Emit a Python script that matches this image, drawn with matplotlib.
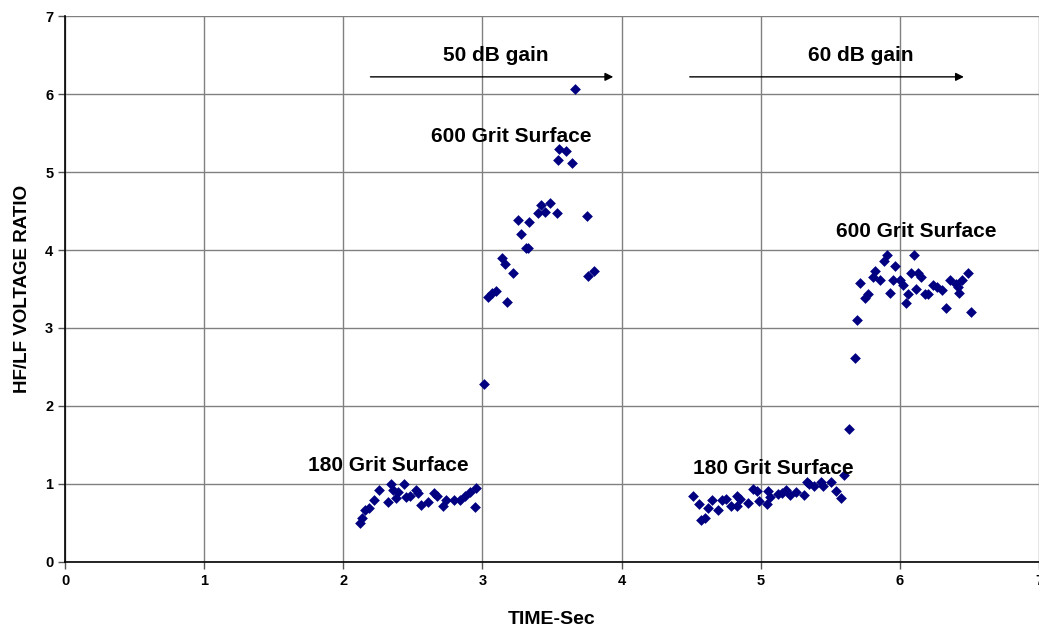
import matplotlib
matplotlib.use('Agg')
import matplotlib.pyplot as plt

plt.rcParams['font.family'] = ['Liberation Sans', 'DejaVu Sans']
plt.rcParams['font.weight'] = 'bold'

# 180 grit, 50 dB gain
t1 = [2.118, 2.137, 2.154, 2.185, 2.218, 2.256, 2.321, 2.340, 2.357, 2.381, 2.393, 2.434,
      2.453, 2.477, 2.520, 2.536, 2.561, 2.610, 2.649, 2.673, 2.716, 2.740, 2.793, 2.836,
      2.871, 2.907, 2.943, 2.955]
r1 = [0.50, 0.57, 0.67, 0.69, 0.80, 0.92, 0.77, 1.00, 0.92, 0.82, 0.90, 1.00,
      0.83, 0.85, 0.92, 0.88, 0.73, 0.77, 0.88, 0.85, 0.72, 0.79, 0.79, 0.79,
      0.84, 0.90, 0.71, 0.95]

# 600 grit, 50 dB gain
t2 = [3.008, 3.039, 3.070, 3.094, 3.142, 3.161, 3.175, 3.218, 3.252, 3.274, 3.310, 3.326,
      3.333, 3.398, 3.422, 3.453, 3.482, 3.534, 3.542, 3.548, 3.602, 3.642, 3.664, 3.750,
      3.762, 3.803]
r2 = [2.28, 3.40, 3.45, 3.47, 3.90, 3.82, 3.33, 3.70, 4.38, 4.20, 4.03, 4.03,
      4.36, 4.47, 4.58, 4.49, 4.60, 4.47, 5.15, 5.30, 5.27, 5.11, 6.07, 4.44,
      3.67, 3.73]

# 180 grit, 60 dB gain
t3 = [4.510, 4.558, 4.571, 4.602, 4.618, 4.647, 4.695, 4.721, 4.750, 4.786, 4.826, 4.829,
      4.850, 4.912, 4.941, 4.972, 4.989, 5.042, 5.049, 5.066, 5.121, 5.152, 5.185, 5.210,
      5.253, 5.312, 5.329, 5.348, 5.384, 5.432, 5.449, 5.504, 5.540, 5.576, 5.600, 5.635]
r3 = [0.85, 0.74, 0.54, 0.56, 0.69, 0.80, 0.66, 0.79, 0.81, 0.72, 0.72, 0.85,
      0.81, 0.76, 0.94, 0.91, 0.78, 0.74, 0.91, 0.83, 0.87, 0.88, 0.92, 0.86,
      0.90, 0.86, 1.03, 1.00, 0.97, 1.03, 0.97, 1.02, 0.91, 0.82, 1.12, 1.70]

# 600 grit, 60 dB gain
t4 = [5.674, 5.690, 5.712, 5.748, 5.772, 5.808, 5.824, 5.858, 5.889, 5.910, 5.930, 5.953,
      5.963, 6.001, 6.025, 6.044, 6.061, 6.082, 6.104, 6.114, 6.133, 6.154, 6.181, 6.202,
      6.241, 6.270, 6.305, 6.329, 6.360, 6.401, 6.420, 6.425, 6.449, 6.492, 6.511]
r4 = [2.61, 3.10, 3.58, 3.38, 3.44, 3.66, 3.73, 3.61, 3.86, 3.94, 3.45, 3.62,
      3.79, 3.62, 3.55, 3.32, 3.44, 3.71, 3.93, 3.50, 3.71, 3.65, 3.44, 3.44,
      3.55, 3.52, 3.49, 3.26, 3.62, 3.57, 3.52, 3.45, 3.61, 3.71, 3.20]

fig = plt.figure(figsize=(10.39, 6.36), dpi=100)
ax = fig.add_axes([0.0626, 0.1164, 0.9374, 0.8584])

for t, r in [(t1, r1), (t2, r2), (t3, r3), (t4, r4)]:
    ax.scatter(t, r, marker='D', s=30, color='#000080', zorder=3, linewidths=0)

ax.set_xlim(0, 7)
ax.set_ylim(0, 7)
ax.set_xticks(range(8))
ax.set_yticks(range(8))
ax.grid(True, color='#808080', linewidth=1)
ax.set_axisbelow(True)
ax.tick_params(labelsize=10.5, length=5, width=1, color='#555555')
for s in ['top', 'right']:
    ax.spines[s].set_visible(False)
for s in ['left', 'bottom']:
    ax.spines[s].set_color('black')
    ax.spines[s].set_linewidth(1.2)

ax.set_xlabel('TIME-Sec', fontsize=14, fontweight='bold', labelpad=17)
ax.set_ylabel('HF/LF VOLTAGE RATIO', fontsize=13.5, fontweight='bold', labelpad=10)

# gain arrows
ax.annotate('', xy=(3.96, 6.22), xytext=(2.175, 6.22),
            arrowprops=dict(arrowstyle='-|>', color='black', lw=1, mutation_scale=12))
ax.annotate('', xy=(6.48, 6.22), xytext=(4.47, 6.22),
            arrowprops=dict(arrowstyle='-|>', color='black', lw=1, mutation_scale=12))
ax.text(3.094, 6.50, '50 dB gain', fontsize=15, fontweight='bold', ha='center', va='center')
ax.text(5.72, 6.50, '60 dB gain', fontsize=15, fontweight='bold', ha='center', va='center')

ax.text(3.21, 5.46, '600 Grit Surface', fontsize=15, fontweight='bold', ha='center', va='center')
ax.text(2.326, 1.24, '180 Grit Surface', fontsize=15, fontweight='bold', ha='center', va='center')
ax.text(5.09, 1.20, '180 Grit Surface', fontsize=15, fontweight='bold', ha='center', va='center')
ax.text(6.12, 4.24, '600 Grit Surface', fontsize=15, fontweight='bold', ha='center', va='center')

fig.savefig('out.png', dpi=100)
